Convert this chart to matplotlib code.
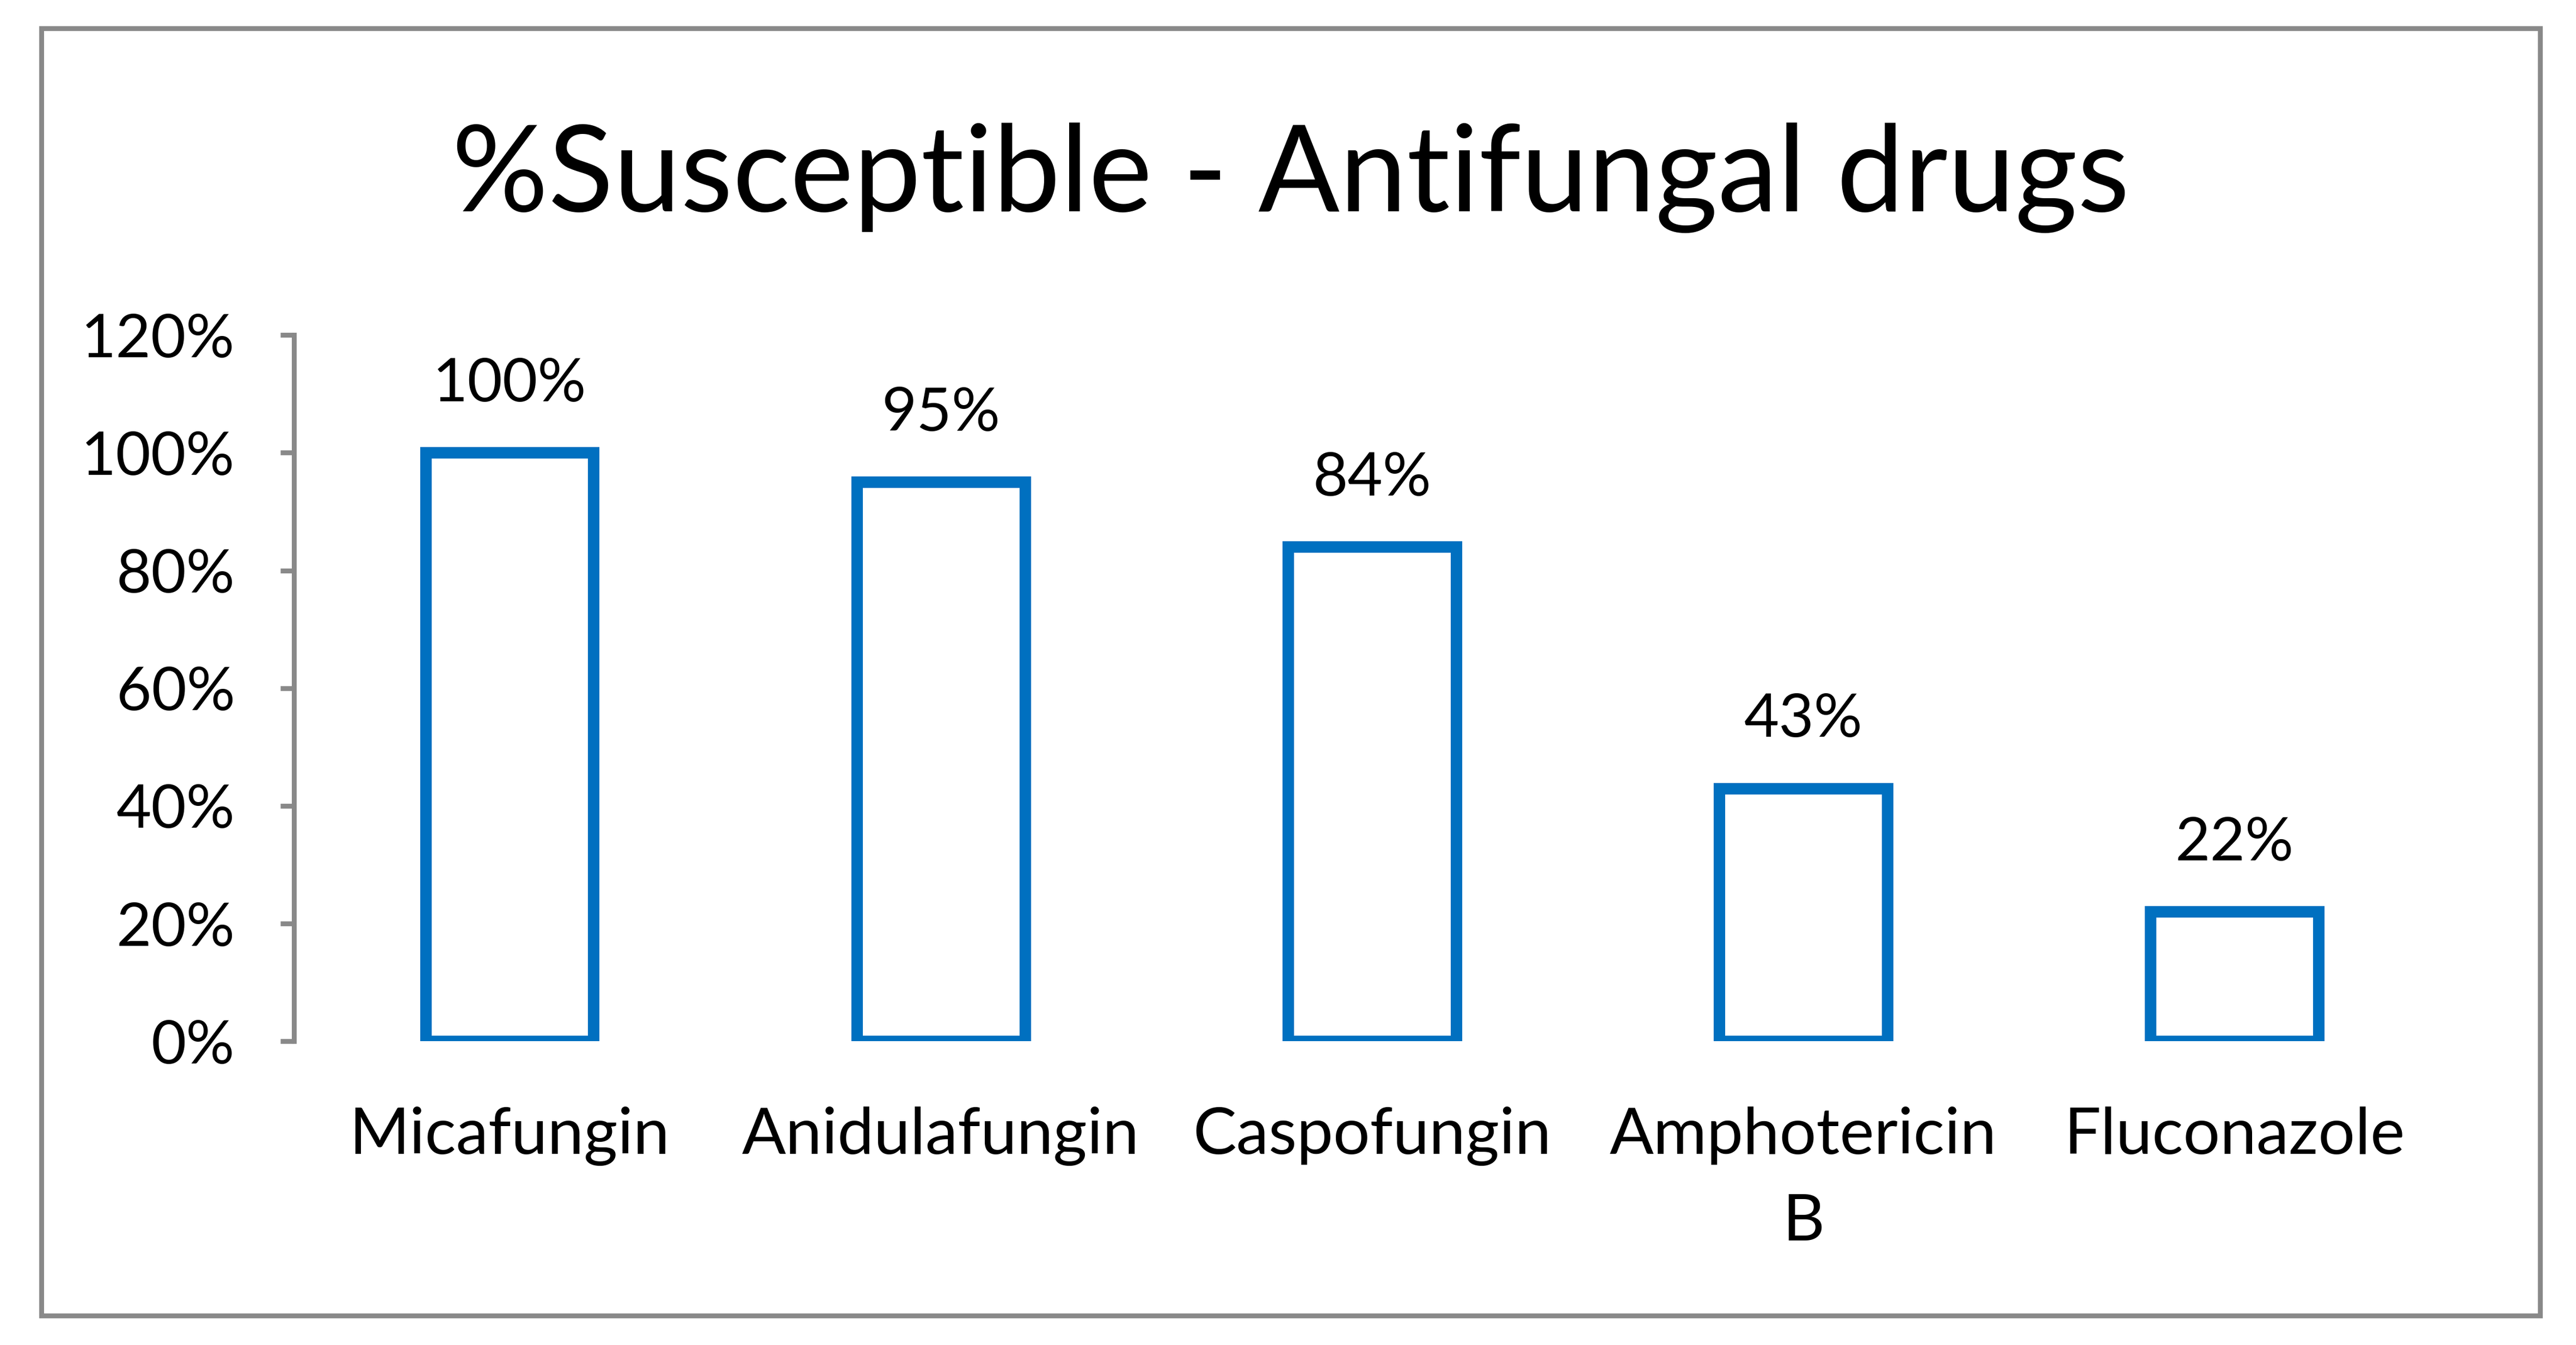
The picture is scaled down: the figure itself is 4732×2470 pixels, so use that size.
#Antifungal susceptibility bar chart
import matplotlib
matplotlib.use('Agg')
import matplotlib.pyplot as plt
from matplotlib.patches import Rectangle

#data
drugs = ['Micafungin', 'Anidulafungin', 'Caspofungin', 'Amphotericin\nB', 'Fluconazole']
susceptible = [1.00, 0.95, 0.84, 0.43, 0.22]
yticks = [0, 0.2, 0.4, 0.6, 0.8, 1.0, 1.2]
ytick_labels = ['0%', '20%', '40%', '60%', '80%', '100%', '120%']

blue = '#0070C0'
gray = '#898989'
plt.rcParams['font.family'] = ['Lato', 'DejaVu Sans']

fig = plt.figure(figsize=(23.66, 12.35), dpi=200)
ax = fig.add_axes([0.1141, 0.2258, 0.8370, 0.5251])

#bars with outline only
x = list(range(len(drugs)))
ax.bar(x, susceptible, width=0.39, facecolor='white', edgecolor=blue, linewidth=7.6)

#value labels
for xi, v in zip(x, susceptible):
    ax.annotate('{:.0f}%'.format(v * 100), (xi, v), xytext=(0, 34),
                textcoords='offset points', ha='center', va='baseline', fontsize=40)

ax.set_xlim(-0.5, len(drugs) - 0.5)
ax.set_ylim(0, 1.2)
ax.set_yticks(yticks)
ax.set_yticklabels(ytick_labels)
ax.set_xticks(x)
ax.set_xticklabels(drugs)
for lab in ax.get_xticklabels():
    lab.set_linespacing(1.6)

#axes styling
for s in ['top', 'right', 'bottom']:
    ax.spines[s].set_visible(False)
ax.spines['left'].set_color(gray)
ax.spines['left'].set_linewidth(3.2)
ax.tick_params(axis='y', length=9, width=3.2, color=gray, pad=30, labelsize=40)
ax.tick_params(axis='x', length=0, pad=43, labelsize=43)

#title
fig.text(0.501, 0.843, '%Susceptible - Antifungal drugs', ha='center', va='baseline', fontsize=79.5)

#outer chart border
fig.patches.append(Rectangle((0.016, 0.022), 0.970, 0.957, transform=fig.transFigure,
                             fill=False, edgecolor=gray, linewidth=3.2))

fig.savefig('out.png', dpi=200)
